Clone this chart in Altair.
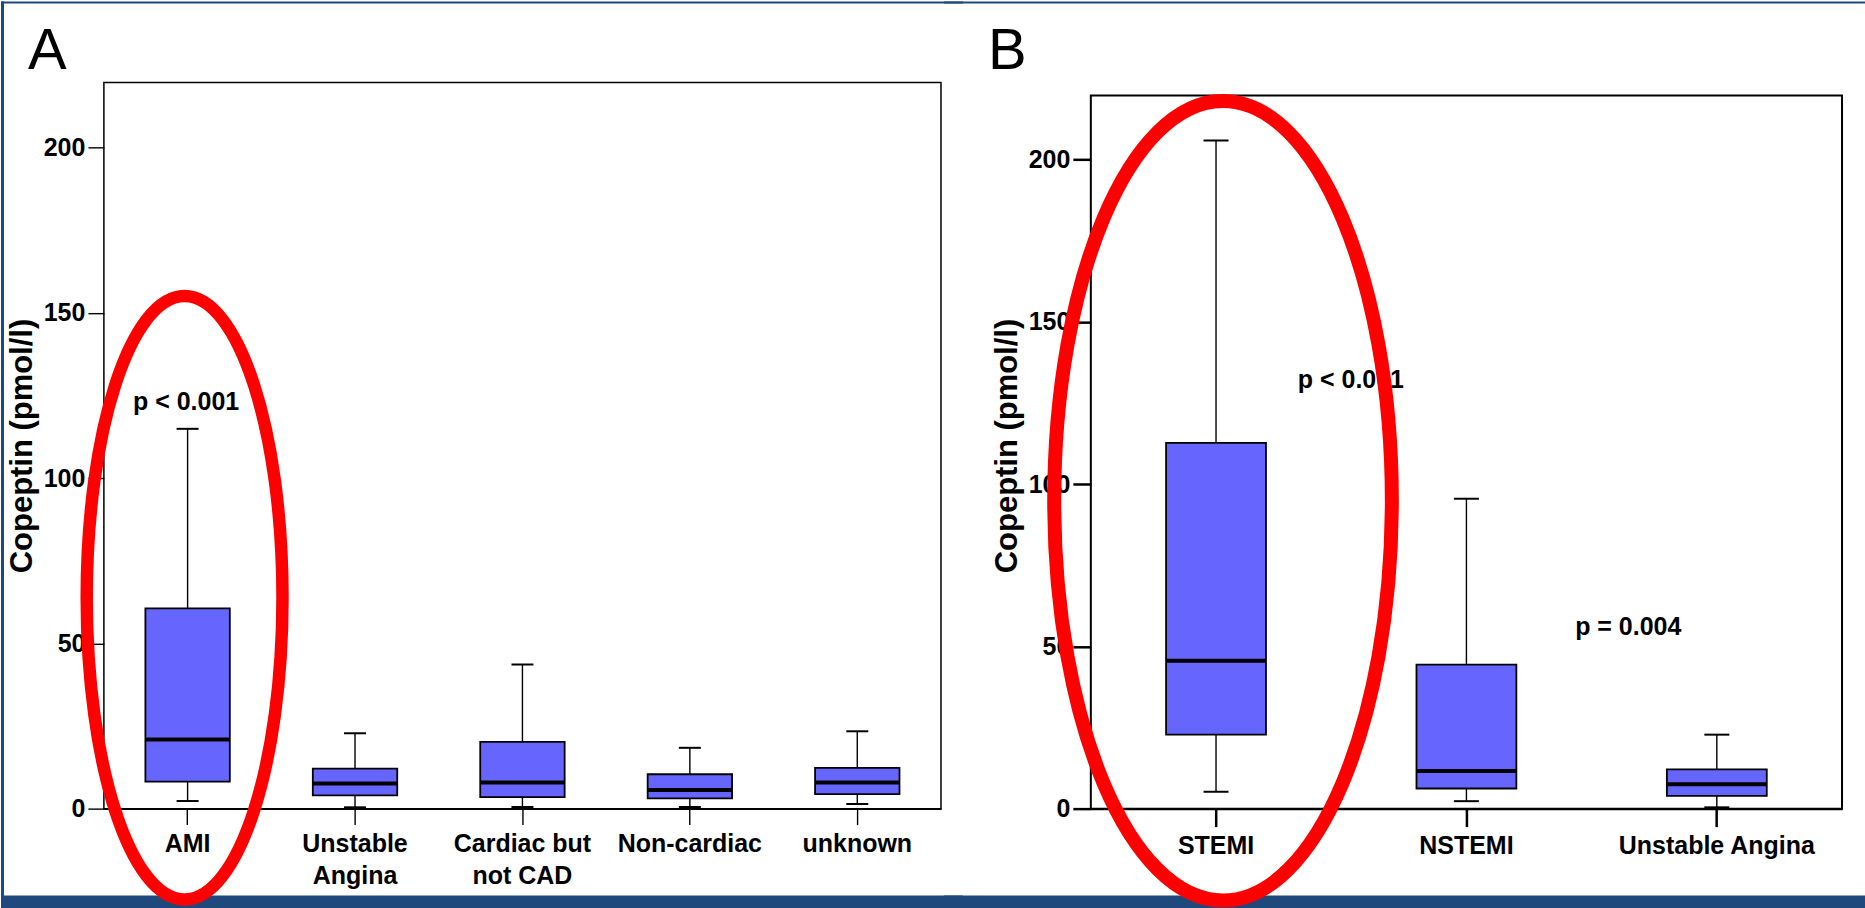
import altair as alt
import pandas as pd

# ---------------- data ----------------
cats_a = ["AMI", "Unstable Angina", "Cardiac but not CAD", "Non-cardiac", "unknown"]
a_lower = [2.3, 0.4, 0.5, 0.5, 1.4]
a_q1 = [8.2, 4.0, 3.5, 3.1, 4.4]
a_median = [20.9, 7.6, 7.9, 5.6, 7.9]
a_q3 = [60.6, 12.1, 20.2, 10.4, 12.3]
a_upper = [114.9, 22.8, 43.6, 18.4, 23.4]

cats_b = ["STEMI", "NSTEMI", "Unstable Angina"]
b_lower = [5.2, 2.3, 0.4]
b_q1 = [22.8, 6.2, 3.9]
b_median = [45.6, 11.6, 7.5]
b_q3 = [112.7, 44.4, 12.1]
b_upper = [205.9, 95.5, 22.8]

y_ticks = [0, 50, 100, 150, 200]
y_max_a = 219.7
y_max_b = 223.8   # panel B's scale runs a little higher; its frame stops at ~219.8

# annotations: (label, category, value)
ann_a = [("p < 0.001", "AMI", 120.6)]
ann_b1 = [("p < 0.001", "STEMI", 129.6)]
ann_b2 = [("p = 0.004", "NSTEMI", 53.5)]

# highlight ellipses: category, centre value
ell_a = [("AMI", 63.8)]
ell_b = [("STEMI", 94.9)]

FONT = "Liberation Sans"
BOX_FILL = "#6666FF"
BORDER = "#1F497D"
RED = "#FF0000"
Y_TITLE = "Copeptin (pmol/l)"


def ellipse_path(a, c=0.0):
    """Unit ellipse (half-height 1, half-width a), centre shifted by c in x."""
    k = 0.5523
    ka = k * a

    def X(v):
        return f"{v + c:.4f}"
    return (f"M {X(0)} -1 C {X(ka)} -1 {X(a)} {-k:.4f} {X(a)} 0 "
            f"C {X(a)} {k:.4f} {X(ka)} 1 {X(0)} 1 "
            f"C {X(-ka)} 1 {X(-a)} {k:.4f} {X(-a)} 0 "
            f"C {X(-a)} {-k:.4f} {X(-ka)} -1 {X(0)} -1 Z")


one = pd.DataFrame({"k": [0]})


def rect(x1, x2, y1, y2):
    return alt.Chart(one).mark_rect(color=BORDER).encode(
        x=alt.value(x1), x2=alt.value(x2), y=alt.value(y1), y2=alt.value(y2))


def frame(x1, x2, y1, y2, w):
    return alt.Chart(one).mark_rect(fill="transparent", stroke="black",
                                    strokeWidth=w).encode(
        x=alt.value(x1), x2=alt.value(x2), y=alt.value(y1), y2=alt.value(y2))


def panel(cats, lower, q1, med, q3, upper, *, width, height, ymax, box_w, cap_w,
          tick_w, tick_x, tick_y, label_expr, frame_w, custom_frame, anns, ell,
          ell_rx, ell_ry, ell_dx, ell_sw, letter, letter_x, letter_y, borders):
    df = pd.DataFrame({"cat": cats, "lower": lower, "q1": q1, "median": med,
                       "q3": q3, "upper": upper})
    xaxis_kw = dict(title=None, labelAngle=0, tickSize=tick_x, tickWidth=tick_w,
                    tickColor="black", domain=True, domainColor="black",
                    domainWidth=frame_w, labelFont=FONT, labelFontSize=25,
                    labelFontWeight="bold", labelColor="black", labelPadding=7,
                    labelLineHeight=32, labelLimit=400, grid=False)
    if label_expr:
        xaxis_kw["labelExpr"] = label_expr
    xaxis = alt.Axis(**xaxis_kw)
    xscale = alt.Scale(domain=cats, paddingInner=0, paddingOuter=0)
    yaxis = alt.Axis(values=y_ticks, tickSize=tick_y, tickWidth=tick_w,
                     tickColor="black", domain=False, labelFont=FONT,
                     labelFontSize=25, labelFontWeight="bold", labelColor="black",
                     labelPadding=3, grid=False, titleFont=FONT, titleFontSize=31,
                     titleFontWeight="bold", titleColor="black", titlePadding=5)
    yscale = alt.Scale(domain=[0, ymax], nice=False, zero=True)

    def X():
        return alt.X("cat:N", scale=xscale, axis=xaxis, sort=cats)

    def Y(f):
        return alt.Y(f"{f}:Q", scale=yscale, axis=yaxis, title=Y_TITLE)

    base = alt.Chart(df)
    whisk = base.mark_rule(color="black", strokeWidth=1.4).encode(
        x=X(), y=Y("lower"), y2="upper:Q")
    caps_lo = base.mark_tick(color="black", size=cap_w, thickness=2, opacity=1).encode(
        x=X(), y=Y("lower"))
    caps_hi = base.mark_tick(color="black", size=cap_w, thickness=2, opacity=1).encode(
        x=X(), y=Y("upper"))
    box = base.mark_bar(size=box_w, fill=BOX_FILL, stroke="black",
                        strokeWidth=1.8, opacity=1).encode(
        x=X(), y=Y("q1"), y2="q3:Q")
    mid = base.mark_tick(color="black", size=box_w, thickness=4, opacity=1).encode(
        x=X(), y=Y("median"))

    layers = [rect(*b) for b in borders]
    if custom_frame:
        layers.append(frame(*custom_frame, frame_w))
    layers += [whisk, caps_lo, caps_hi, box, mid]
    for (lab, c, v), dx in anns:
        adf = pd.DataFrame({"cat": [c], "val": [v], "label": [lab]})
        layers.append(alt.Chart(adf).mark_text(
            font=FONT, fontSize=25, fontWeight="bold", color="black",
            align="center", baseline="alphabetic", dx=dx).encode(
            x=X(), y=Y("val"), text="label:N"))
    edf = pd.DataFrame({"cat": [e[0] for e in ell], "val": [e[1] for e in ell]})
    layers.append(alt.Chart(edf).mark_point(
        shape=ellipse_path(ell_rx / ell_ry, ell_dx / ell_ry),
        size=(2 * ell_ry) ** 2, filled=False, stroke=RED,
        strokeWidth=ell_sw, opacity=1, strokeOpacity=1).encode(
        x=X(), y=Y("val")))
    layers.append(alt.Chart(one).mark_text(
        text=letter, font=FONT, fontSize=58, color="black", align="left",
        baseline="alphabetic").encode(x=alt.value(letter_x), y=alt.value(letter_y)))

    if custom_frame:
        view = alt.ViewBackground(strokeWidth=0, strokeOpacity=0)
    else:
        view = alt.ViewBackground(stroke="black", strokeWidth=frame_w)
    return alt.layer(*layers).properties(width=width, height=height, view=view)


label_expr_a = ("datum.label == 'Unstable Angina' ? ['Unstable', 'Angina'] : "
                "datum.label == 'Cardiac but not CAD' ? ['Cardiac but', 'not CAD'] : datum.label")

WA, H = 838, 727
WB = 752
OVER = 20  # the two panels' border strips overlap by this much (no seam)

panel_a = panel(
    cats_a, a_lower, a_q1, a_median, a_q3, a_upper,
    width=WA, height=H, ymax=y_max_a, box_w=84.5, cap_w=22, tick_w=1.4,
    tick_x=16, tick_y=16, label_expr=label_expr_a, frame_w=1.5, custom_frame=None,
    anns=[(ann_a[0], -1.5)], ell=ell_a, ell_rx=98, ell_ry=302, ell_dx=-3,
    ell_sw=12.5, letter="A", letter_x=-76, letter_y=-13,
    borders=[(-103, -100, -81, 827), (-103, WA + 2 + OVER, -81, -79),
             (-103, WA + 2 + OVER, 814, 827)])

panel_b = panel(
    cats_b, b_lower, b_q1, b_median, b_q3, b_upper,
    width=WB, height=H, ymax=y_max_b, box_w=100, cap_w=25, tick_w=2.5,
    tick_x=18, tick_y=18, label_expr=None, frame_w=2,
    custom_frame=(0, WB, 13, H),
    anns=[(ann_b1[0], 135), (ann_b2[0], 162)], ell=ell_b, ell_rx=169, ell_ry=400.2,
    ell_dx=7, ell_sw=14, letter="B", letter_x=-103, letter_y=-13,
    borders=[(-147, 775, -81, -79), (-147, 775, 814, 827)])

chart = alt.hconcat(panel_a, panel_b, spacing=-OVER).properties(
    padding=0, background="white")

chart.save("out.html", embed_options={"renderer": "svg", "actions": False})
